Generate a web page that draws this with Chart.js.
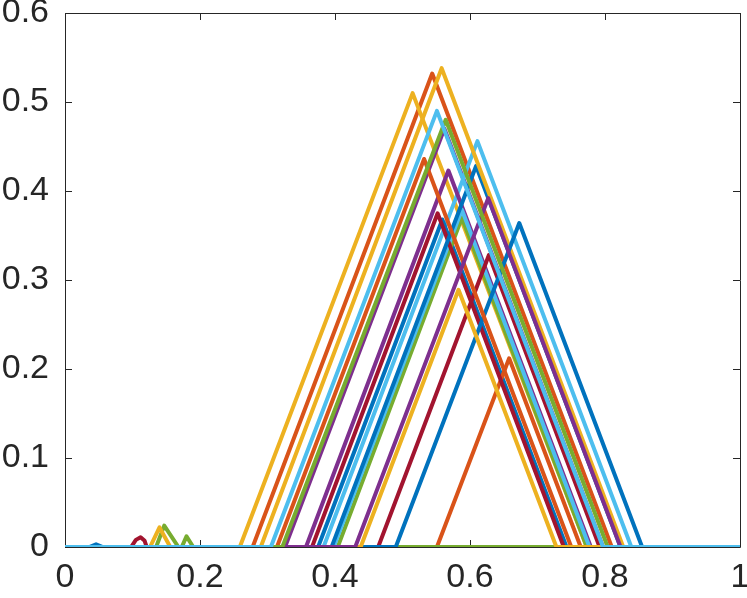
<!DOCTYPE html>
<html>
<head>
<meta charset="utf-8">
<script src="https://cdn.jsdelivr.net/npm/chart.js@4.4.1/dist/chart.umd.min.js"></script>
<style>
  html, body { margin: 0; padding: 0; background: #fff; }
  #wrap { width: 747px; height: 598px; }
</style>
</head>
<body>
<div id="wrap"><canvas id="chart"></canvas></div>
<script>
// MATLAB default line colours
const palette = {
  blue: '#0072BD', orange: '#D95319', yellow: '#EDB120', purple: '#7E2F8E',
  green: '#77AC30', lightblue: '#4DBEEE', darkred: '#A2142F'
};

// tick labels
const xTicks = [0, 0.2, 0.4, 0.6, 0.8, 1];
const yTicks = [0, 0.1, 0.2, 0.3, 0.4, 0.5, 0.6];

// series in drawing order (first drawn at the bottom)
const seriesColors = [
  'blue', 'orange', 'yellow', 'purple', 'green', 'lightblue', 'darkred',
  'blue', 'orange', 'yellow', 'purple', 'green', 'lightblue', 'darkred',
  'blue', 'yellow', 'green',
  'darkred', 'blue', 'orange', 'yellow', 'purple', 'green', 'lightblue'
];
// x positions of each series' vertices
const seriesX = [
  [0, 0.036, 0.046, 0.056, 1],
  [0, 0.278, 0.544, 0.810, 1],
  [0, 0.259, 0.515, 0.773, 1],
  [0, 0.326, 0.562, 0.797, 1],
  [0, 0.135, 0.147, 0.168, 1],
  [0, 0.383, 0.611, 0.839, 1],
  [0, 0.098, 0.105, 0.112, 0.118, 0.121, 1],
  [0, 0.375, 0.559, 0.743, 1],
  [0, 0.551, 0.658, 0.764, 1],
  [0, 0.126, 0.140, 0.156, 1],
  [0, 0.357, 0.568, 0.779, 1],
  [0, 0.404, 0.588, 0.773, 1],
  [0, 0.398, 0.588, 0.777, 1],
  [0, 0.366, 0.552, 0.739, 1],
  [0, 0.395, 0.609, 0.823, 1],
  [0, 0.290, 0.558, 0.827, 1],
  [0, 0.173, 0.180, 0.190, 1],
  [0, 0.464, 0.628, 0.792, 1],
  [0, 0.490, 0.673, 0.855, 1],
  [0, 0.314, 0.532, 0.750, 1],
  [0, 0.438, 0.583, 0.728, 1],
  [0, 0.430, 0.627, 0.823, 1],
  [0, 0.322, 0.564, 0.804, 1],
  [0, 0.305, 0.551, 0.797, 1]
];
// y values at those vertices
const seriesY = [
  [0, 0, 0.003, 0, 0],
  [0, 0, 0.532, 0, 0],
  [0, 0, 0.510, 0, 0],
  [0, 0, 0.470, 0, 0],
  [0, 0, 0.024, 0, 0],
  [0, 0, 0.456, 0, 0],
  [0, 0, 0.008, 0.011, 0.007, 0, 0],
  [0, 0, 0.368, 0, 0],
  [0, 0, 0.212, 0, 0],
  [0, 0, 0.022, 0, 0],
  [0, 0, 0.423, 0, 0],
  [0, 0, 0.370, 0, 0],
  [0, 0, 0.379, 0, 0],
  [0, 0, 0.375, 0, 0],
  [0, 0, 0.428, 0, 0],
  [0, 0, 0.538, 0, 0],
  [0, 0, 0.012, 0, 0],
  [0, 0, 0.328, 0, 0],
  [0, 0, 0.364, 0, 0],
  [0, 0, 0.436, 0, 0],
  [0, 0, 0.289, 0, 0],
  [0, 0, 0.392, 0, 0],
  [0, 0, 0.480, 0, 0],
  [0, 0, 0.490, 0, 0]
];

const axisColor = '#262626';
const tickFont = { family: '"Liberation Sans", Arial, sans-serif', size: 34 };

// Chart.js paints dataset 0 last, so reverse to keep MATLAB stacking
const datasets = seriesX.map(function (xs, i) {
  return {
    data: xs.map(function (x, j) { return { x: x, y: seriesY[i][j] }; }),
    borderColor: palette[seriesColors[i]],
    borderWidth: 4,
    borderJoinStyle: 'round',
    borderCapStyle: 'round',
    pointRadius: 0,
    tension: 0,
    fill: false
  };
}).reverse();

// box around the axes and inward tick marks, like MATLAB
const boxPlugin = {
  id: 'matlabBox',
  beforeDatasetsDraw: function (chart) {
    const ctx = chart.ctx;
    const a = chart.chartArea;
    const xs = chart.scales.x;
    const ys = chart.scales.y;
    const len = 7;
    ctx.save();
    ctx.strokeStyle = axisColor;
    ctx.lineWidth = 1;
    ctx.beginPath();
    ctx.rect(a.left + 0.5, a.top + 0.5, a.right - a.left, a.bottom - a.top);
    xTicks.forEach(function (t) {
      const px = Math.round(xs.getPixelForValue(t)) + 0.5;
      ctx.moveTo(px, a.bottom); ctx.lineTo(px, a.bottom - len);
      ctx.moveTo(px, a.top); ctx.lineTo(px, a.top + len);
    });
    yTicks.forEach(function (t) {
      const py = Math.round(ys.getPixelForValue(t)) + 0.5;
      ctx.moveTo(a.left, py); ctx.lineTo(a.left + len, py);
      ctx.moveTo(a.right, py); ctx.lineTo(a.right - len, py);
    });
    ctx.stroke();
    ctx.restore();
  }
};

function fmt(v) { return String(Math.round(v * 10) / 10); }

new Chart(document.getElementById('chart'), {
  type: 'line',
  data: { datasets: datasets },
  plugins: [boxPlugin],
  options: {
    responsive: true,
    maintainAspectRatio: false,
    animation: false,
    layout: { padding: { top: 13, right: 7, left: 0, bottom: 0 } },
    plugins: { legend: { display: false }, tooltip: { enabled: false } },
    scales: {
      x: {
        type: 'linear',
        min: 0,
        max: 1,
        afterBuildTicks: function (s) { s.ticks = xTicks.map(function (v) { return { value: v }; }); },
        afterFit: function (s) { s.height = 51; s.paddingLeft = 0; s.paddingRight = 0; },
        ticks: { color: axisColor, font: tickFont, padding: 2, maxRotation: 0, callback: fmt },
        grid: { display: false },
        border: { display: false }
      },
      y: {
        type: 'linear',
        min: 0,
        max: 0.6,
        afterBuildTicks: function (s) { s.ticks = yTicks.map(function (v) { return { value: v }; }); },
        afterFit: function (s) { s.width = 65; s.paddingTop = 0; s.paddingBottom = 0; },
        ticks: { color: axisColor, font: tickFont, padding: 8, callback: fmt },
        grid: { display: false },
        border: { display: false }
      }
    }
  }
});
</script>
</body>
</html>
